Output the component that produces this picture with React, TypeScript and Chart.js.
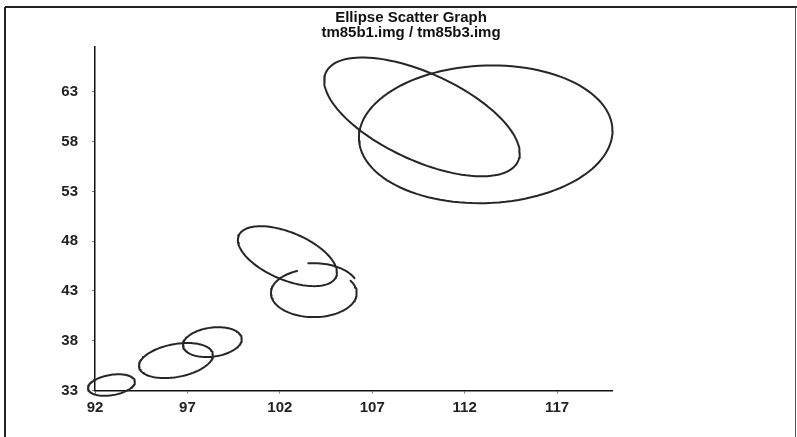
import { useEffect, useRef } from "react";
import { Chart, registerables } from "chart.js";

Chart.register(...registerables);

// Axis ticks / ranges
const xTicks = [92, 97, 102, 107, 112, 117];
const yTicks = [33, 38, 43, 48, 53, 58, 63];
const xMin = 92;
const xMax = 120;
const yMin = 33;
const yMax = 67.5;

const titleText = "Ellipse Scatter Graph";
const subtitleText = "tm85b1.img / tm85b3.img";

// Ellipse outlines: centre, half-width, half-height,
// correlation (tilt) and the arc span in degrees (the 4th ellipse is drawn in two broken arcs).
const arcCenterX = [109.69, 113.14, 102.41, 103.84, 103.84, 98.35, 96.38, 92.89];
const arcCenterY = [60.48, 58.73, 46.49, 42.78, 43.18, 37.86, 36.01, 33.55];
const arcHalfX = [5.29, 6.86, 2.68, 2.32, 2.43, 1.59, 2.0, 1.27];
const arcHalfY = [5.97, 6.92, 3.01, 2.41, 2.61, 1.5, 1.76, 1.08];
const arcRho = [-0.61, 0.05, -0.54, 0, 0, 0.2, 0.31, 0.3];
const arcStart = [0, 0, 0, 113, 25, 0, 0, 0];
const arcEnd = [360, 360, 360, 391, 97, 360, 360, 360];

function arcPoints(i: number) {
  const pts: { x: number; y: number }[] = [];
  const s = arcStart[i];
  const e = arcEnd[i];
  const n = Math.max(10, Math.round((e - s) / 3));
  const r = arcRho[i];
  const q = Math.sqrt(1 - r * r);
  for (let k = 0; k <= n; k++) {
    const t = ((s + ((e - s) * k) / n) * Math.PI) / 180;
    pts.push({
      x: arcCenterX[i] + arcHalfX[i] * Math.cos(t),
      y: arcCenterY[i] + arcHalfY[i] * (r * Math.cos(t) + q * Math.sin(t)),
    });
  }
  return pts;
}

const FONT = "Arial, 'Liberation Sans', Helvetica, sans-serif";

const framePlugin = {
  id: "frame",
  afterDraw(chart: any) {
    const ctx = chart.ctx;
    ctx.save();
    ctx.strokeStyle = "#222";
    ctx.lineWidth = 2;
    ctx.beginPath();
    ctx.moveTo(5, 7);
    ctx.lineTo(797, 7);
    ctx.moveTo(5, 7);
    ctx.lineTo(5, 437);
    ctx.stroke();
    ctx.lineWidth = 1;
    ctx.strokeStyle = "#555";
    ctx.beginPath();
    ctx.moveTo(795.5, 7);
    ctx.lineTo(795.5, 437);
    ctx.stroke();
    ctx.restore();
  },
};

export default function App() {
  const ref = useRef<HTMLCanvasElement | null>(null);
  useEffect(() => {
    if (!ref.current) return;
    const datasets = arcCenterX.map((_, i) => ({
      label: "e" + i,
      data: arcPoints(i),
      showLine: true,
      borderColor: "#262626",
      borderWidth: 2,
      borderJoinStyle: "round",
      borderCapStyle: "round",
      pointRadius: 0,
      tension: 0,
      fill: false,
      clip: false as any,
    }));
    const chart = new Chart(ref.current, {
      type: "scatter",
      data: { datasets } as any,
      plugins: [framePlugin],
      options: {
        animation: false,
        responsive: false,
        devicePixelRatio: 1,
        layout: { padding: { left: 25, right: 0, top: 0, bottom: 0 } },
        plugins: {
          legend: { display: false },
          tooltip: { enabled: false },
          title: {
            display: true,
            text: titleText,
            color: "#111",
            font: { family: FONT, size: 15, weight: "bold", lineHeight: 1 },
            padding: { top: 10, bottom: 0 },
          },
          subtitle: {
            display: true,
            text: subtitleText,
            color: "#111",
            font: { family: FONT, size: 15, weight: "bold", lineHeight: 1 },
            padding: { top: 0, bottom: 7 },
          },
        },
        scales: {
          x: {
            type: "linear",
            min: xMin,
            max: xMax,
            afterBuildTicks: (s: any) => {
              s.ticks = xTicks.map((v) => ({ value: v }));
            },
            afterFit: (s: any) => {
              s.height = 46.5;
            },
            grid: {
              display: true,
              drawOnChartArea: false,
              drawTicks: true,
              tickLength: 3,
              color: "#777",
            },
            border: { display: true, color: "#111", width: 1.5 },
            ticks: {
              color: "#222",
              padding: 5,
              maxRotation: 0,
              autoSkip: false,
              font: { family: FONT, size: 15, weight: "bold" },
            },
          },
          y: {
            type: "linear",
            min: yMin,
            max: yMax,
            afterBuildTicks: (s: any) => {
              s.ticks = yTicks.map((v) => ({ value: v }));
            },
            afterFit: (s: any) => {
              s.width = 70;
            },
            grid: {
              display: true,
              drawOnChartArea: false,
              drawTicks: true,
              tickLength: 3,
              color: "#777",
            },
            border: { display: true, color: "#111", width: 1.5 },
            ticks: {
              color: "#222",
              padding: 14,
              autoSkip: false,
              font: { family: FONT, size: 15, weight: "bold" },
            },
          },
          yR: {
            type: "linear",
            position: "right",
            display: true,
            afterFit: (s: any) => {
              s.width = 184.5;
            },
            grid: { display: false },
            border: { display: false },
            ticks: { display: false },
          },
        },
      } as any,
    });
    return () => chart.destroy();
  }, []);
  return (
    <div style={{ position: "absolute", left: 0, top: 0, width: 797, height: 437, background: "#fff" }}>
      <canvas ref={ref} width={797} height={437} style={{ width: 797, height: 437, display: "block" }} />
    </div>
  );
}
